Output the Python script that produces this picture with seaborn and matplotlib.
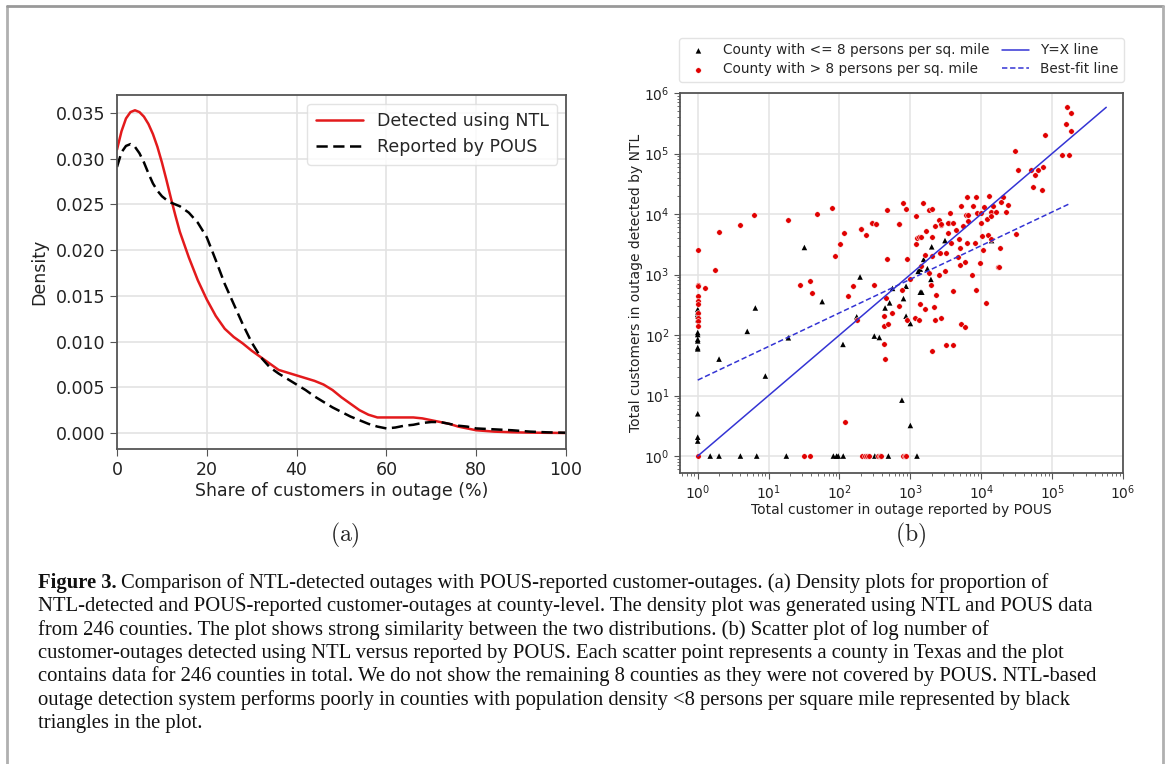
import numpy as np
import pandas as pd
import matplotlib
matplotlib.use("Agg")
import matplotlib.pyplot as plt
import seaborn as sns
from matplotlib.lines import Line2D

# ---------------- data: density curves (panel a) ----------------
share_grid = [0, 1, 2, 3, 4, 5, 6, 7, 8, 9, 10, 11, 12, 13, 14, 16, 18, 20, 22, 24, 26, 28, 30,
              32, 34, 36, 38, 40, 42, 44, 46, 48, 50, 52, 54, 56, 58, 60, 62, 64, 66, 68, 70,
              72, 74, 76, 78, 80, 84, 88, 92, 96, 100]
density_ntl = [0.0310, 0.0330, 0.0344, 0.0351, 0.0353, 0.0351, 0.0346, 0.0338, 0.0327, 0.0313,
               0.0296, 0.0277, 0.0257, 0.0238, 0.0220, 0.0192, 0.0167, 0.0146, 0.0128, 0.0114,
               0.0105, 0.0098, 0.0090, 0.0083, 0.0076, 0.0069, 0.0066, 0.0063, 0.0060, 0.0057,
               0.0053, 0.0047, 0.0039, 0.0032, 0.0025, 0.0020, 0.0017, 0.0017, 0.0017, 0.0017,
               0.0017, 0.0016, 0.0014, 0.0012, 0.0010, 0.0007, 0.0005, 0.0003, 0.00015,
               0.00008, 0.00004, 0.00002, 0.0]
density_pous = [0.0291, 0.0307, 0.0314, 0.0316, 0.0313, 0.0306, 0.0296, 0.0284, 0.0273, 0.0265,
                0.0259, 0.0255, 0.0252, 0.0250, 0.0248, 0.0241, 0.0230, 0.0214, 0.0189, 0.0163,
                0.0141, 0.0119, 0.0099, 0.0083, 0.0072, 0.0065, 0.0059, 0.0053, 0.0047, 0.0040,
                0.0034, 0.0028, 0.0023, 0.0018, 0.0014, 0.0010, 0.0007, 0.0005, 0.0006, 0.0008,
                0.0009, 0.0011, 0.0012, 0.0012, 0.0010, 0.0008, 0.0007, 0.0005, 0.0004, 0.0003,
                0.00015, 0.00007, 0.00003]

# ---------------- data: scatter (panel b) ----------------
# counties with <= 8 persons per sq. mile (black triangles)
low_pous = [1, 1, 1, 1, 1, 1, 1, 1, 1, 1, 1, 1, 1, 1,
            2, 5, 6.5, 9, 19, 32, 57, 112, 175, 195, 310, 365, 440, 510, 560, 800, 870, 870,
            1000, 760, 1000, 1380, 1450, 1290, 1380, 1540, 1740, 1950, 2000, 3080, 14000,
            1.5, 2.0, 4.0, 6.8, 17.8, 82, 91, 96, 113, 315, 380, 490, 1240]
low_ntl = [265, 240, 220, 205, 180, 110, 102, 85, 80, 62, 59, 5, 2.05, 1.77,
           40, 115, 280, 21, 90, 2800, 357, 70, 200, 910, 96, 91, 280, 340, 590, 400, 640, 205,
           155, 8.4, 3.2, 510, 510, 1130, 1230, 1780, 1250, 830, 2870, 3640, 3640,
           1, 1, 1, 1, 1, 1, 1, 1, 1, 1, 1, 1, 1]

# counties with > 8 persons per sq. mile (red dots)
high_pous = [1, 1.74, 2, 4, 1, 1, 1.25, 1, 1, 1, 1, 1, 1, 1, 1,
             28, 38, 41, 87, 102, 117, 134, 155, 175, 200, 240, 285, 310, 330, 470, 455, 425,
             425, 490, 420, 445, 550, 690, 690, 760, 890, 900, 1000, 1200, 1230, 1320, 1410,
             1180, 1320, 1410, 1350, 1630, 1660, 1620, 1850, 1950, 2040, 2050, 2000, 2130, 2270,
             2250, 2240, 2650, 2680, 2570, 2750, 3080, 3150, 3160, 3400, 3550, 3800, 3960, 4060,
             4370, 4650, 4900, 5030, 5050, 5200, 5600, 5900, 5950, 6200, 7300, 8200, 8500, 9500,
             10300, 10500, 11700, 12300, 13800, 17300, 18000, 18600, 31000, 120,
             32, 38, 210, 230, 245, 260, 350, 370, 390, 780, 830, 860,
             1.6e5, 1.86e5, 1.55e5, 1.83e5, 7.9e4, 2.97e4, 1.4e5, 1.73e5, 3.3e4, 5.1e4, 6.3e4,
             5.8e4, 7.5e4, 5.3e4, 7.1e4, 6200, 8300, 1.3e4, 2.0e4, 5100, 7600, 6100, 6400, 8800,
             1.0e4, 1.1e4, 1.45e4, 1.38e4, 1.6e4, 1.9e4, 2.35e4, 2.2e4, 1.22e4, 1.38e4, 1.0e4,
             6400, 3650, 3450, 2500, 800, 870, 1500, 1850, 2000, 1200, 690, 465, 290, 330, 200,
             78, 48, 19, 6.2, 4060, 2700]
high_ntl = [2500, 1200, 5000, 6700, 680, 640, 590, 440, 360, 320, 230, 190, 170, 140, 1,
            670, 780, 500, 2050, 3250, 4900, 450, 645, 180, 5650, 4450, 7100, 680, 6900, 1830,
            410, 205, 140, 150, 72, 40, 230, 300, 6900, 560, 1780, 180, 830, 3160, 4000, 4200,
            4100, 190, 180, 1370, 320, 265, 5300, 2140, 1060, 680, 4150, 2000, 55, 295, 465,
            180, 6300, 2280, 190, 1000, 6700, 1140, 2300, 68, 4900, 7200, 3300, 530, 68,
            5350, 1950, 3800, 1420, 2760, 150, 6400, 137, 1590, 3300, 1000, 3300, 560, 1550,
            4300, 2570, 340, 4450, 3800, 1340, 1310, 2750, 4750, 3.7,
            1, 1, 1, 1, 1, 1, 1, 1, 1, 1, 1, 1,
            5.8e5, 4.6e5, 3.1e5, 2.4e5, 2.0e5, 1.1e5, 9.4e4, 9.5e4, 5.4e4, 5.3e4, 5.3e4,
            4.4e4, 5.9e4, 2.75e4, 2.5e4, 1.9e4, 1.9e4, 2.0e4, 1.9e4, 1.35e4, 1.35e4, 9500,
            9500, 1.05e4, 1.05e4, 1.3e4, 1.35e4, 1.08e4, 1.1e4, 1.6e4, 1.4e4, 1.07e4, 8300,
            9300, 7100, 7800, 1.05e4, 7100, 8100, 1.5e4, 1.2e4, 1.5e4, 1.15e4, 1.2e4, 9100,
            6900, 1.15e4, 7200, 6900, 5700, 1.25e4, 1.0e4, 8100, 9800, 7100, 6800]

# reference lines (end points)
yx_x = [1, 5.8e5]
yx_y = [1, 5.8e5]
fit_x = [1, 1.7e5]
fit_y = [18, 1.45e4]

caption_lines = [
    "Comparison of NTL-detected outages with POUS-reported customer-outages. (a) Density plots for proportion of",
    "NTL-detected and POUS-reported customer-outages at county-level. The density plot was generated using NTL and POUS data",
    "from 246 counties. The plot shows strong similarity between the two distributions. (b) Scatter plot of log number of",
    "customer-outages detected using NTL versus reported by POUS. Each scatter point represents a county in Texas and the plot",
    "contains data for 246 counties in total. We do not show the remaining 8 counties as they were not covered by POUS. NTL-based",
    "outage detection system performs poorly in counties with population density <8 persons per square mile represented by black",
    "triangles in the plot.",
]

# ---------------- figure ----------------
sns.set_style("ticks")
plt.rcParams["font.family"] = ["DejaVu Sans"]
plt.rcParams["mathtext.fontset"] = "dejavusans"

W, H = 1167, 764
fig = plt.figure(figsize=(W / 100, H / 100), dpi=100)

def px_axes(l, t, r, b):
    return fig.add_axes([l / W, 1 - b / H, (r - l) / W, (b - t) / H])

spine_col = "#555555"
grid_col = "#e3e3e3"

# ---- panel (a) ----
ax1 = px_axes(117, 95, 566, 449)
dens = pd.DataFrame({"share": share_grid, "ntl": density_ntl, "pous": density_pous})
sns.lineplot(data=dens, x="share", y="ntl", ax=ax1, color="#e31a1c", lw=1.8,
             label="Detected using NTL")
sns.lineplot(data=dens, x="share", y="pous", ax=ax1, color="black", lw=1.8,
             linestyle=(0, (4.5, 2.2)), label="Reported by POUS")
ax1.set_xlim(0, 100)
ax1.set_ylim(-0.00175, 0.03697)
ax1.set_xticks([0, 20, 40, 60, 80, 100])
ax1.set_yticks([0, 0.005, 0.01, 0.015, 0.02, 0.025, 0.03, 0.035])
ax1.set_yticklabels([f"{v:.3f}" for v in [0, 0.005, 0.01, 0.015, 0.02, 0.025, 0.03, 0.035]])
ax1.grid(True, color=grid_col, lw=1.2)
ax1.set_axisbelow(True)
ax1.tick_params(labelsize=12.5, colors="#222222", length=5, color=spine_col)
ax1.set_xlabel("Share of customers in outage (%)", fontsize=12.5, color="#222222", labelpad=2)
ax1.set_ylabel("Density", fontsize=12.5, color="#222222", labelpad=5)
for s in ax1.spines.values():
    s.set_color(spine_col)
    s.set_linewidth(1.3)
leg1 = ax1.legend(loc="upper right", fontsize=12.5, frameon=True, fancybox=True,
                  handlelength=2.7, borderpad=0.5, labelspacing=0.45)
leg1.get_frame().set_edgecolor("#dddddd")

# ---- panel (b) ----
ax2 = px_axes(680, 93, 1123, 473)
low = pd.DataFrame({"pous": low_pous, "ntl": low_ntl})
high = pd.DataFrame({"pous": high_pous, "ntl": high_ntl})
sns.scatterplot(data=low, x="pous", y="ntl", ax=ax2, marker="^", color="black", s=16,
                edgecolor="none", label="County with <= 8 persons per sq. mile", zorder=3)
sns.scatterplot(data=high, x="pous", y="ntl", ax=ax2, marker="o", color="#e00000", s=16,
                edgecolor="white", linewidth=0.4,
                label="County with > 8 persons per sq. mile", zorder=3)
lines_df = pd.DataFrame({"x": yx_x, "y": yx_y})
fit_df = pd.DataFrame({"x": fit_x, "y": fit_y})
sns.lineplot(data=lines_df, x="x", y="y", ax=ax2, color="#3434d4", lw=1.1,
             label="Y=X line", zorder=4)
sns.lineplot(data=fit_df, x="x", y="y", ax=ax2, color="#3434d4", lw=1.1,
             linestyle=(0, (3.5, 1.8)), label="Best-fit line", zorder=4)
ax2.set_xscale("log")
ax2.set_yscale("log")
ax2.set_xlim(10 ** -0.25, 1e6)
ax2.set_ylim(10 ** -0.28, 1e6)
ax2.set_xticks([1, 10, 100, 1e3, 1e4, 1e5, 1e6])
ax2.set_yticks([1, 10, 100, 1e3, 1e4, 1e5, 1e6])
ax2.grid(True, which="major", color=grid_col, lw=1.1)
ax2.set_axisbelow(True)
ax2.tick_params(which="major", labelsize=10, colors="#222222", length=4, color=spine_col)
ax2.tick_params(which="minor", length=2, color=spine_col)
ax2.set_xlabel("Total customer in outage reported by POUS", fontsize=10, color="#222222", labelpad=1)
ax2.set_ylabel("Total customers in outage detected by NTL", fontsize=10, color="#222222", labelpad=1)
for s in ax2.spines.values():
    s.set_color(spine_col)
    s.set_linewidth(1.3)
handles, labels = ax2.get_legend_handles_labels()
leg2 = ax2.legend(handles, labels, loc="lower center", bbox_to_anchor=(0.5, 1.012), ncol=2,
                  fontsize=9.8, frameon=True, fancybox=True, handlelength=2.0,
                  columnspacing=0.9, borderpad=0.4, labelspacing=0.35, handletextpad=0.8)
leg2.get_frame().set_edgecolor("#dddddd")

# ---- sub-figure labels ----
plt.rcParams["mathtext.fontset"] = "cm"
fig.text(345 / W, 1 - 535 / H, r"$(\mathrm{a})$", ha="center", va="center", fontsize=17)
fig.text(911 / W, 1 - 535 / H, r"$(\mathrm{b})$", ha="center", va="center", fontsize=17)

# ---- caption ----
cap_family = "Liberation Serif"
cap_size = 14.9
y0 = 583
dy = 23.35
renderer = fig.canvas.get_renderer()
bold = fig.text(38 / W, 1 - y0 / H, "Figure 3.", fontsize=cap_size, family=cap_family,
                fontweight="bold", va="center", ha="left", color="#111111")
bb = bold.get_window_extent(renderer=renderer)
fig.text((bb.x1 + 4) / W, 1 - y0 / H, caption_lines[0], fontsize=cap_size, family=cap_family,
         va="center", ha="left", color="#111111")
for i, line in enumerate(caption_lines[1:], start=1):
    fig.text(38 / W, 1 - (y0 + i * dy) / H, line, fontsize=cap_size, family=cap_family,
             va="center", ha="left", color="#111111")

# ---- page frame ----
frame_col = "#b0b0b0"
fig.add_artist(Line2D([7 / W, 7 / W], [0, 1 - 6 / H], transform=fig.transFigure, color=frame_col, lw=2))
fig.add_artist(Line2D([7 / W, 1163 / W], [1 - 6 / H, 1 - 6 / H], transform=fig.transFigure, color="#999999", lw=2))
fig.add_artist(Line2D([1163 / W, 1163 / W], [0, 1 - 6 / H], transform=fig.transFigure, color=frame_col, lw=2))

fig.savefig("out.png", dpi=100)
